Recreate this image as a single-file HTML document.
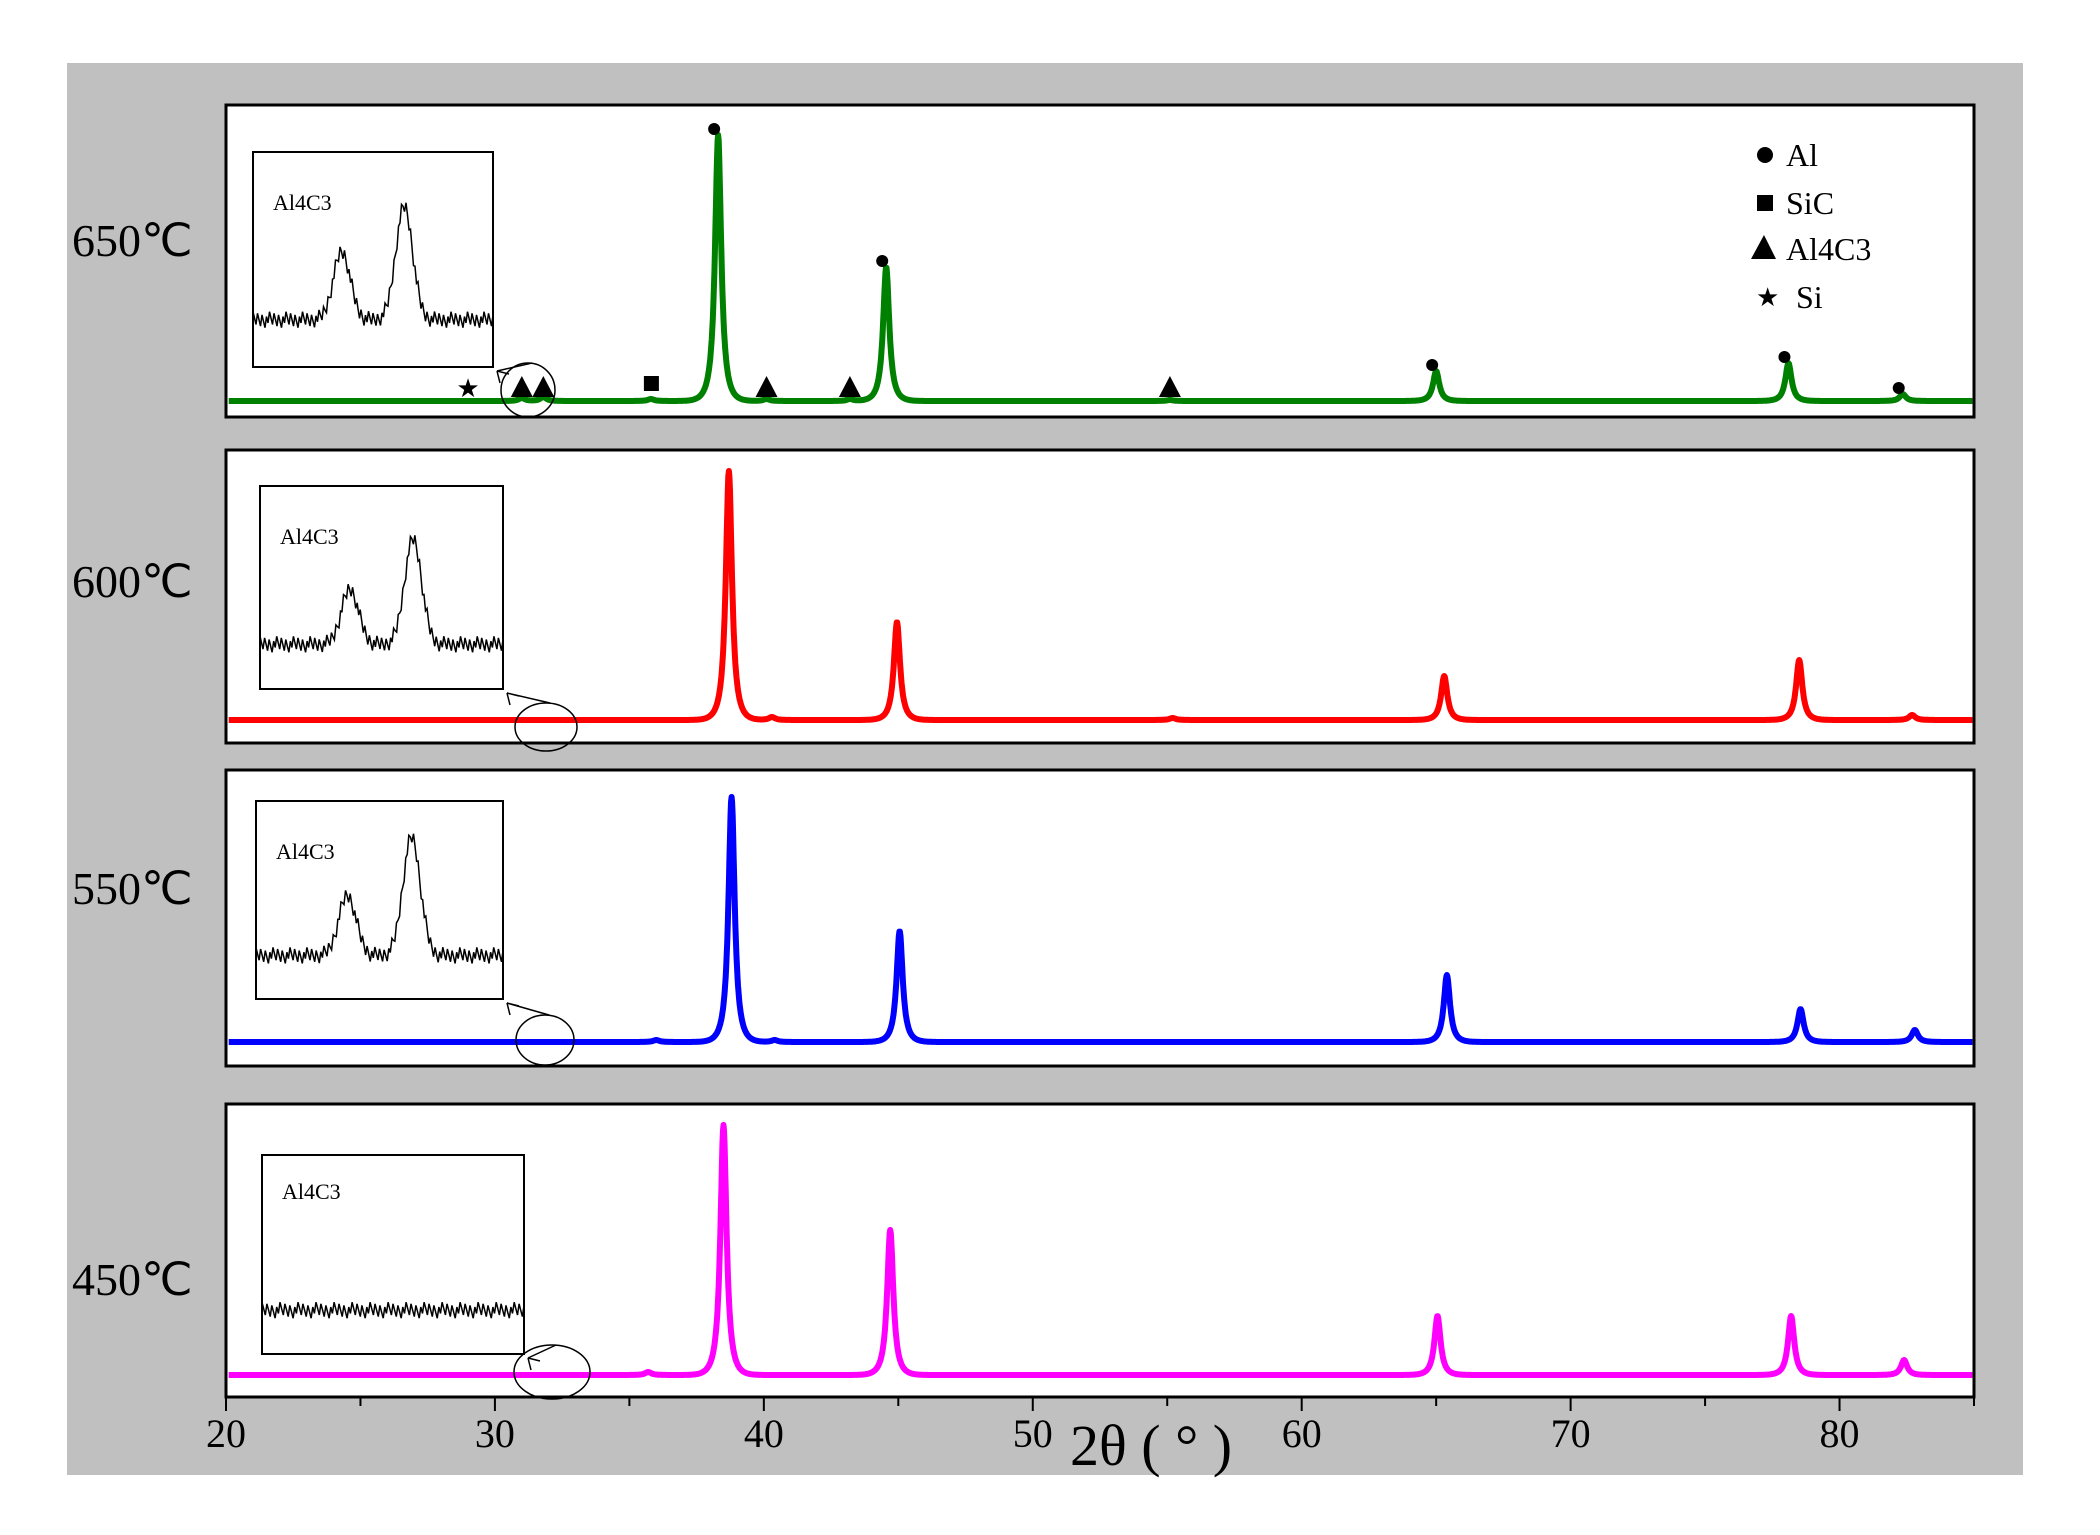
<!DOCTYPE html>
<html><head><meta charset="utf-8"><style>
html,body{margin:0;padding:0;background:#fff;}
svg{display:block;font-family:"Liberation Serif",serif;}
</style></head><body>
<svg id="chart" width="2100" height="1535" viewBox="0 0 2100 1535">
<rect x="67" y="63" width="1956" height="1412" fill="#c0c0c0"/>
<g id="plots"></g>
<g id="axis"></g>
<text x="1070" y="1465" font-size="58" text-anchor="start">2θ ( ° )</text>
<g>
<circle cx="1765" cy="155" r="8" fill="#000"/>
<text x="1786" y="166" font-size="32">Al</text>
<rect x="1757" y="195" width="16" height="16" fill="#000"/>
<text x="1786" y="214" font-size="32">SiC</text>
<polygon points="1751,259 1776,259 1764,235" fill="#000"/>
<text x="1786" y="260" font-size="32">Al4C3</text>
<text x="1756" y="306" font-size="26">★</text>
<text x="1796" y="308" font-size="32">Si</text>
</g>
</svg>
<script>
// ---- data ----
const temperatures = ["650℃","600℃","550℃","450℃"];
const colors = ["#008000","#ff0000","#0000ff","#ff00ff"];
const peakPos650 = [38.3, 44.55, 65.0, 78.1, 82.35, 31.0, 31.8, 40.1, 43.2, 55.1, 35.8];
const peakInt650 = [266, 134, 30, 38, 7, 3, 4, 2, 2, 1, 2];
const peakPos600 = [38.7, 44.95, 65.3, 78.5, 82.7, 40.3, 55.2];
const peakInt600 = [249, 98, 44, 60, 5, 3, 2];
const peakPos550 = [38.8, 45.05, 65.4, 78.55, 82.8, 36.0, 40.4];
const peakInt550 = [245, 111, 67, 33, 12, 2, 2];
const peakPos450 = [38.5, 44.7, 65.05, 78.2, 82.4, 35.7];
const peakInt450 = [250, 145, 59, 59, 15, 3];
const insetPos = [0.37, 0.63];
const insetInt650 = [68, 113];
const insetInt600 = [55, 105];
const insetInt550 = [60, 118];
const insetInt450 = [0, 0];
const xTicks = [20,30,40,50,60,70,80];
const tickLabels = ["20","30","40","50","60","70","80"];
const markerAlPos = [38.3, 44.55, 65.0, 78.1, 82.35];
const markerAlInt = [266, 134, 30, 38, 7];
const markerTriPos = [31.0, 31.8, 40.1, 43.2, 55.1];
const markerSquarePos = [35.8];
const markerStarPos = [29.0];

// ---- layout ----
const X0=226, X1=1974, XMIN=20, XMAX=85;
const xs = v => X0 + (v-XMIN)/(XMAX-XMIN)*(X1-X0);
const panels = [
 {top:105,bot:417,base:401,pos:peakPos650,int:peakInt650,ins:[253,152,493,367],insInt:insetInt650,ell:[528,390,27,27],tlabel:240},
 {top:450,bot:743,base:720,pos:peakPos600,int:peakInt600,ins:[260,486,503,689],insInt:insetInt600,ell:[546,727,31,24],tlabel:581},
 {top:770,bot:1066,base:1042,pos:peakPos550,int:peakInt550,ins:[256,801,503,999],insInt:insetInt550,ell:[545,1040,29,25],tlabel:888},
 {top:1104,bot:1397,base:1375,pos:peakPos450,int:peakInt450,ins:[262,1155,524,1354],insInt:insetInt450,ell:[552,1372,38,27],tlabel:1279}
];
const NS="http://www.w3.org/2000/svg";
function mk(tag, attrs, parent){const e=document.createElementNS(NS,tag);for(const k in attrs)e.setAttribute(k,attrs[k]);parent.appendChild(e);return e;}
const g=document.getElementById('plots');
const names=["650","600","550","450"];
panels.forEach((p,i)=>{
  const pg=mk('g',{},g);
  
  
  const r=mk('rect',{x:X0,y:p.top,width:X1-X0,height:p.bot-p.top,fill:'#fff',stroke:'#000','stroke-width':3},pg);
  
  
  const ys = v => p.base - v;
  let d='';
  for(let x=20.1;x<=84.95;x+=0.02){
    let s=0;
    p.pos.forEach((c,k)=>{const w=0.14; s+=p.int[k]/(1+((x-c)/w)*((x-c)/w))*Math.exp(-(((x-c)/(w*3))**2)*0.3);});
    d+=(d?'L':'M')+xs(x).toFixed(1)+','+ys(s).toFixed(1);
  }
  const path=mk('path',{d:d,fill:'none',stroke:colors[i],'stroke-width':6,'stroke-linejoin':'round'},pg);
  
  
  const t=mk('text',{x:72,y:p.tlabel+16,'font-size':46},pg);
  t.textContent=temperatures[i];
  
  
  const [a,b,c2,d2]=p.ins;
  const ig=mk('g',{},pg);
  
  
  mk('rect',{x:a,y:b,width:c2-a,height:d2-b,fill:'#fff',stroke:'#000','stroke-width':2},ig);
  const lab=mk('text',{x:a+20,y:b+(i==3?44:58),'font-size':22},ig);
  lab.textContent='Al4C3';
  
  
  const ib=b+(d2-b)*0.78;
  let id='';const W=c2-a;
  for(let k=0;k<=160;k++){
    const f=k/160;let s=0;
    insetPos.forEach((c,j)=>{s+=p.insInt[j]*Math.exp(-(((f-c)/0.05)**2));});
    const jitter=((k*37)%11-5)*1.6;
    id+=(id?'L':'M')+(a+f*W).toFixed(1)+','+(ib-s+jitter).toFixed(1);
  }
  const ip=mk('path',{d:id,fill:'none',stroke:'#000','stroke-width':1.5},ig);
  
  
  const [ex,ey,rx,ry]=p.ell;
  const el=mk('ellipse',{cx:ex,cy:ey,rx:rx,ry:ry,fill:'none',stroke:'#000','stroke-width':1.5},pg);
  
  
  const ar=mk('path',{d:`M${ex+4},${ey-ry} L${c2+4},${d2+4} M${c2+4},${d2+4} l3,12 M${c2+4},${d2+4} l12,3`,stroke:'#000','stroke-width':1.5,fill:'none'},pg);
  
  
});
const p0=panels[0];
markerAlPos.forEach((v,k)=>{
  const c=mk('circle',{cx:xs(v)-4,cy:p0.base-markerAlInt[k]-6,r:6,fill:'#000'},g);
  
  
});
markerTriPos.forEach(v=>{
  const x=xs(v),y=p0.base-4;
  const t=mk('polygon',{points:`${x-11},${y} ${x+11},${y} ${x},${y-21}`,fill:'#000'},g);
  
  
});
markerSquarePos.forEach(v=>{
  const s=mk('rect',{x:xs(v)-7,y:p0.base-25,width:15,height:15,fill:'#000'},g);
  
  
});
markerStarPos.forEach(v=>{
  const s=mk('text',{x:xs(v),y:p0.base-4,'font-size':26,'text-anchor':'middle'},g);
  s.textContent='★';
  
  
});
const ax=document.getElementById('axis');
const yb=1397;
for(let v=20;v<=85;v+=5){
  const tk=mk('line',{x1:xs(v),x2:xs(v),y1:yb,y2:yb+(v%10==0?14:9),stroke:'#000','stroke-width':2},ax);
  
  
}
xTicks.forEach((v,k)=>{
  const t=mk('text',{x:xs(v),y:1447,'font-size':40,'text-anchor':'middle'},ax);
  t.textContent=tickLabels[k];
  
  
});
</script>
</body></html>
